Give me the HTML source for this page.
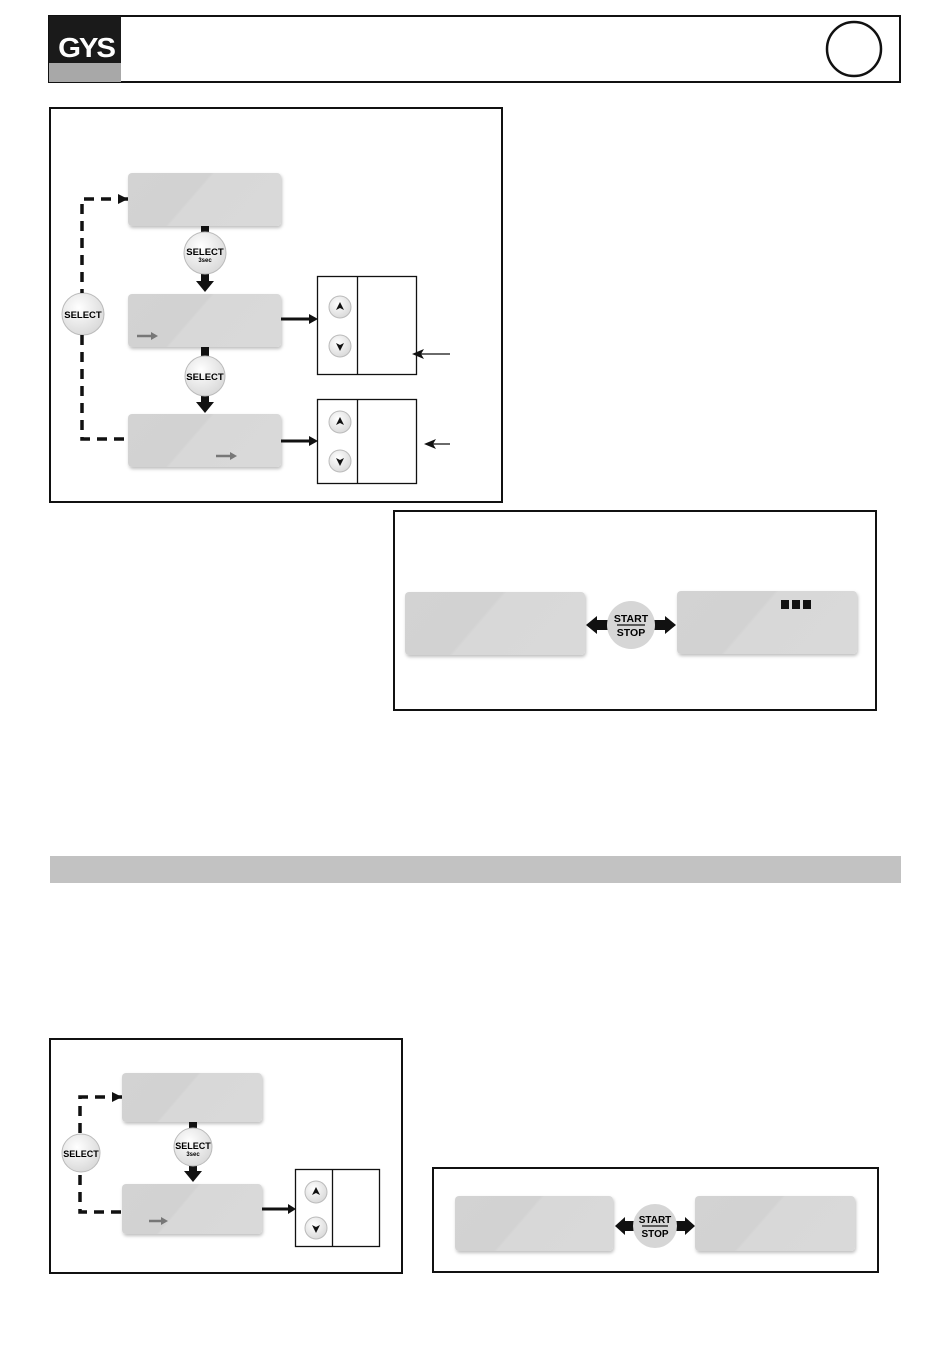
<!DOCTYPE html>
<html><head><meta charset="utf-8"><style>
html,body{margin:0;padding:0;background:#fff;width:950px;height:1353px;overflow:hidden}
svg{display:block}
text{font-family:"Liberation Sans",sans-serif;font-weight:bold;text-anchor:middle}
</style></head><body>
<svg width="950" height="1353" viewBox="0 0 950 1353" xmlns="http://www.w3.org/2000/svg">
<defs>
<linearGradient id="lcd" x1="0" y1="0" x2="1" y2="0.3">
<stop offset="0" stop-color="#d3d3d3"/><stop offset="0.5" stop-color="#d2d2d2"/><stop offset="0.52" stop-color="#d8d8d8"/><stop offset="1" stop-color="#d9d9d9"/></linearGradient>
<radialGradient id="btn" cx="0.4" cy="0.35" r="0.7"><stop offset="0" stop-color="#fff"/><stop offset="1" stop-color="#d8d8d8"/></radialGradient>
<filter id="sh" x="-10%" y="-10%" width="120%" height="130%"><feDropShadow dx="1" dy="2" stdDeviation="1.5" flood-color="#000" flood-opacity="0.25"/></filter>
</defs>
<!-- header -->
<rect x="49" y="16" width="851" height="66" fill="none" stroke="#111" stroke-width="2"/>
<rect x="49" y="16" width="72" height="47" fill="#1a1a1a"/>
<rect x="49" y="63" width="72" height="19" fill="#a8a8a8"/>
<text x="86" y="57" font-size="28" fill="#fff" style="letter-spacing:-2px" transform="translate(86 0) scale(1.05 1) translate(-86 0)">GYS</text>
<circle cx="854" cy="49" r="27" fill="none" stroke="#111" stroke-width="2.5"/>

<!-- box 1 -->
<rect x="50" y="108" width="452" height="394" fill="none" stroke="#111" stroke-width="2"/>
<g filter="url(#sh)">
<rect x="128" y="173" width="153" height="53" rx="4" fill="url(#lcd)"/>
<rect x="128" y="294" width="153" height="53" rx="4" fill="url(#lcd)"/>
<rect x="128" y="414" width="153" height="53" rx="4" fill="url(#lcd)"/>
</g>
<path d="M137 336 H152" stroke="#777" stroke-width="2.5"/><path d="M151 332 L158 336 L151 340Z" fill="#777"/>
<path d="M216 456 H231" stroke="#777" stroke-width="2.5"/><path d="M230 452 L237 456 L230 460Z" fill="#777"/>
<rect x="201" y="226" width="8" height="8" fill="#111"/>
<path d="M201 274 V281 H196 L205 292 L214 281 H209 V274Z" fill="#111"/>
<rect x="201" y="347" width="8" height="9" fill="#111"/>
<path d="M201 396 V402 H196 L205 413 L214 402 H209 V396Z" fill="#111"/>
<g stroke="#bbb" stroke-width="1" fill="url(#btn)">
<circle cx="205" cy="253" r="21"/><circle cx="205" cy="376" r="20"/><circle cx="83" cy="314" r="21"/>
</g>
<text x="205" y="255" font-size="9.5">SELECT</text><text x="205" y="262" font-size="6" font-weight="normal">3sec</text>
<text x="205" y="380" font-size="9.5">SELECT</text>
<text x="83" y="318" font-size="9.5">SELECT</text>
<path d="M128 199 H82 V293 M82 335 V439 H128" fill="none" stroke="#111" stroke-width="3.5" stroke-dasharray="10,7"/>
<path d="M118 194 L128 199 L118 204Z" fill="#111"/>
<rect x="317.5" y="276.5" width="99" height="98" fill="#fff" stroke="#111" stroke-width="1.3"/>
<line x1="357.5" y1="276" x2="357.5" y2="375" stroke="#111" stroke-width="1.3"/>
<rect x="317.5" y="399.5" width="99" height="84" fill="#fff" stroke="#111" stroke-width="1.3"/>
<line x1="357.5" y1="399" x2="357.5" y2="484" stroke="#111" stroke-width="1.3"/>
<g stroke="#bbb" fill="url(#btn)"><circle cx="340" cy="307" r="11"/><circle cx="340" cy="346" r="11"/><circle cx="340" cy="422" r="11"/><circle cx="340" cy="461" r="11"/></g>
<g fill="#111"><path d="M336 310 L340 302 L344 310 L340 308Z"/><path d="M336 343 L340 351 L344 343 L340 345Z"/><path d="M336 425 L340 417 L344 425 L340 423Z"/><path d="M336 458 L340 466 L344 458 L340 460Z"/></g>
<path d="M281 319 H310" stroke="#111" stroke-width="3"/><path d="M309 314 L318 319 L309 324Z" fill="#111"/>
<path d="M281 441 H310" stroke="#111" stroke-width="3"/><path d="M309 436 L318 441 L309 446Z" fill="#111"/>
<path d="M450 354 H418" stroke="#111" stroke-width="1.2"/><path d="M412 354 L424 349 L421 354 L424 359Z" fill="#111"/>
<path d="M450 444 H430" stroke="#111" stroke-width="1.2"/><path d="M424 444 L436 439 L433 444 L436 449Z" fill="#111"/>

<!-- box 2 -->
<rect x="394" y="511" width="482" height="199" fill="none" stroke="#111" stroke-width="2"/>
<g filter="url(#sh)">
<rect x="405" y="592" width="180" height="63" rx="4" fill="url(#lcd)"/>
<rect x="677" y="591" width="180" height="63" rx="4" fill="url(#lcd)"/>
</g>
<rect x="781" y="600" width="8" height="9" fill="#111"/><rect x="792" y="600" width="8" height="9" fill="#111"/><rect x="803" y="600" width="8" height="9" fill="#111"/>
<path d="M597 620 H608 V630 H597 V634 L586 625 L597 616Z" fill="#111"/>
<path d="M665 620 H654 V630 H665 V634 L676 625 L665 616Z" fill="#111"/>
<circle cx="631" cy="625" r="24" fill="#d6d6d6"/>
<text x="631" y="622" font-size="10.5">START</text><line x1="617" y1="625" x2="645" y2="625" stroke="#111" stroke-width="1.2"/><text x="631" y="636" font-size="10.5">STOP</text>

<rect x="50" y="856" width="851" height="27" fill="#c2c2c2"/>

<!-- box 3 -->
<rect x="50" y="1039" width="352" height="234" fill="none" stroke="#111" stroke-width="2"/>
<g filter="url(#sh)">
<rect x="122" y="1073" width="140" height="49" rx="4" fill="url(#lcd)"/>
<rect x="122" y="1184" width="140" height="50" rx="4" fill="url(#lcd)"/>
</g>
<path d="M149 1221 H162" stroke="#777" stroke-width="2.5"/><path d="M161 1217 L168 1221 L161 1225Z" fill="#777"/>
<rect x="189" y="1122" width="8" height="6" fill="#111"/>
<path d="M189 1166 V1171 H184 L193 1182 L202 1171 H197 V1166Z" fill="#111"/>
<g stroke="#bbb" fill="url(#btn)"><circle cx="193" cy="1147" r="19"/><circle cx="81" cy="1153" r="19"/></g>
<text x="193" y="1149" font-size="9">SELECT</text><text x="193" y="1156" font-size="6" font-weight="normal">3sec</text>
<text x="81" y="1157" font-size="9">SELECT</text>
<path d="M122 1097 H80 V1134 M80 1175 V1212 H122" fill="none" stroke="#111" stroke-width="3.5" stroke-dasharray="10,7"/>
<path d="M112 1092 L122 1097 L112 1102Z" fill="#111"/>
<rect x="295.5" y="1169.5" width="84" height="77" fill="#fff" stroke="#111" stroke-width="1.3"/>
<line x1="332.5" y1="1169" x2="332.5" y2="1247" stroke="#111" stroke-width="1.3"/>
<g stroke="#bbb" fill="url(#btn)"><circle cx="316" cy="1192" r="11"/><circle cx="316" cy="1228" r="11"/></g>
<g fill="#111"><path d="M312 1195 L316 1187 L320 1195 L316 1193Z"/><path d="M312 1225 L316 1233 L320 1225 L316 1227Z"/></g>
<path d="M262 1209 H289" stroke="#111" stroke-width="3"/><path d="M288 1204 L296 1209 L288 1214Z" fill="#111"/>

<!-- box 4 -->
<rect x="433" y="1168" width="445" height="104" fill="none" stroke="#111" stroke-width="2"/>
<g filter="url(#sh)">
<rect x="455" y="1196" width="158" height="55" rx="4" fill="url(#lcd)"/>
<rect x="695" y="1196" width="160" height="55" rx="4" fill="url(#lcd)"/>
</g>
<path d="M625 1221 H635 V1231 H625 V1235 L615 1226 L625 1217Z" fill="#111"/>
<path d="M685 1221 H675 V1231 H685 V1235 L695 1226 L685 1217Z" fill="#111"/>
<circle cx="655" cy="1226" r="22" fill="#d6d6d6"/>
<text x="655" y="1223" font-size="10">START</text><line x1="642" y1="1226" x2="668" y2="1226" stroke="#111" stroke-width="1.2"/><text x="655" y="1237" font-size="10">STOP</text>
</svg>
</body></html>
